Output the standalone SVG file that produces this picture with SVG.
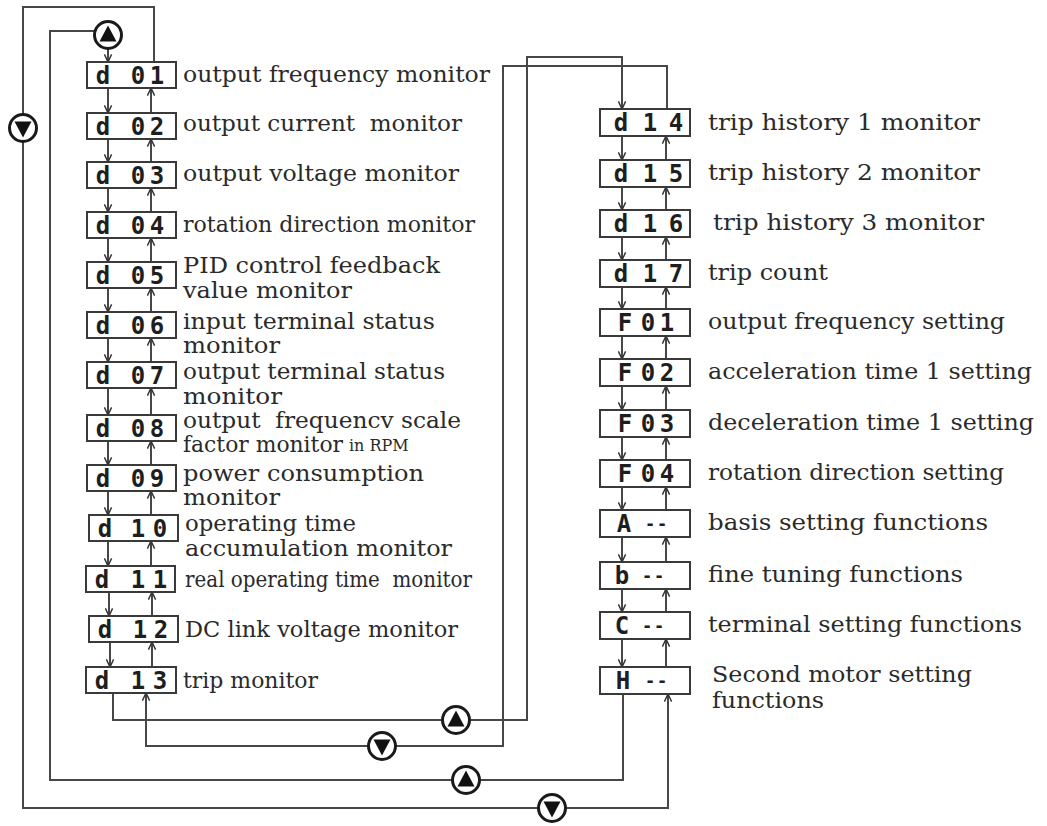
<svg xmlns="http://www.w3.org/2000/svg" xmlns:xlink="http://www.w3.org/1999/xlink" width="1047" height="826" viewBox="0 0 1047 826">
<style>
.box{fill:#fff;stroke:#3a3a3a;stroke-width:2}
.seg{font-family:"DejaVu Sans Mono","Liberation Mono",monospace;font-weight:bold;font-size:24px;fill:#1e1e1e;text-anchor:middle}
.dash{font-size:17px}
.lbl{font-family:"DejaVu Serif","Liberation Serif",serif;font-size:22.5px;fill:#2a2a2a}
.sm{font-size:16px}
.ln{fill:none;stroke:#474747;stroke-width:2}
</style>
<defs>
<marker id="arr" viewBox="0 0 10 10" refX="9.5" refY="5" markerWidth="9" markerHeight="9" markerUnits="userSpaceOnUse" orient="auto">
<path d="M1,1 L9.5,5 L1,9" fill="none" stroke="#333" stroke-width="1.6"/>
</marker>
<g id="bUp"><circle r="13.5" fill="#fff" stroke="#1a1a1a" stroke-width="3"/><polygon points="0,-9.5 -8.5,6.5 8.5,6.5" fill="#111"/></g>
<g id="bDn"><circle r="13.5" fill="#fff" stroke="#1a1a1a" stroke-width="3"/><polygon points="0,9.5 -8.5,-6.5 8.5,-6.5" fill="#111"/></g>
</defs>
<rect width="1047" height="826" fill="#fff"/>

<g id="connectors" class="ln">
<path d="M108,48 L108,62" marker-end="url(#arr)"/>
<path d="M623,694 L623,780 L50,780 L50,31 L100,31"/>
<path d="M154,62 L154,7 L23,7 L23,808 L668,808 L668,694" marker-end="url(#arr)"/>
<path d="M113,693 L113,720 L527,720 L527,57 L622,57 L622,109" marker-end="url(#arr)"/>
<path d="M667,109 L667,66 L503,66 L503,746 L146,746 L146,693" marker-end="url(#arr)"/>
<path d="M108,88 L108,113" marker-end="url(#arr)"/><path d="M151,113 L151,88" marker-end="url(#arr)"/>
<path d="M108,139 L108,162" marker-end="url(#arr)"/><path d="M151,162 L151,139" marker-end="url(#arr)"/>
<path d="M108,188 L108,212" marker-end="url(#arr)"/><path d="M151,212 L151,188" marker-end="url(#arr)"/>
<path d="M108,238 L108,262" marker-end="url(#arr)"/><path d="M151,262 L151,238" marker-end="url(#arr)"/>
<path d="M108,288 L108,312" marker-end="url(#arr)"/><path d="M151,312 L151,288" marker-end="url(#arr)"/>
<path d="M108,338 L108,362" marker-end="url(#arr)"/><path d="M151,362 L151,338" marker-end="url(#arr)"/>
<path d="M108,388 L108,415" marker-end="url(#arr)"/><path d="M151,415 L151,388" marker-end="url(#arr)"/>
<path d="M108,441 L108,465" marker-end="url(#arr)"/><path d="M151,465 L151,441" marker-end="url(#arr)"/>
<path d="M108,491 L108,515" marker-end="url(#arr)"/><path d="M151,515 L151,491" marker-end="url(#arr)"/>
<path d="M108,541 L108,566" marker-end="url(#arr)"/><path d="M151,566 L151,541" marker-end="url(#arr)"/>
<path d="M109,592 L109,616" marker-end="url(#arr)"/><path d="M152,616 L152,592" marker-end="url(#arr)"/>
<path d="M110,642 L110,667" marker-end="url(#arr)"/><path d="M152,667 L152,642" marker-end="url(#arr)"/>
<path d="M622,136 L622,160" marker-end="url(#arr)"/><path d="M666,160 L666,136" marker-end="url(#arr)"/>
<path d="M622,187 L622,210" marker-end="url(#arr)"/><path d="M666,210 L666,187" marker-end="url(#arr)"/>
<path d="M622,237 L622,260" marker-end="url(#arr)"/><path d="M666,260 L666,237" marker-end="url(#arr)"/>
<path d="M622,287 L622,309" marker-end="url(#arr)"/><path d="M666,309 L666,287" marker-end="url(#arr)"/>
<path d="M622,336 L622,359" marker-end="url(#arr)"/><path d="M666,359 L666,336" marker-end="url(#arr)"/>
<path d="M622,386 L622,410" marker-end="url(#arr)"/><path d="M666,410 L666,386" marker-end="url(#arr)"/>
<path d="M622,437 L622,460" marker-end="url(#arr)"/><path d="M666,460 L666,437" marker-end="url(#arr)"/>
<path d="M622,487 L622,510" marker-end="url(#arr)"/><path d="M666,510 L666,487" marker-end="url(#arr)"/>
<path d="M622,537 L622,562" marker-end="url(#arr)"/><path d="M666,562 L666,537" marker-end="url(#arr)"/>
<path d="M622,589 L622,612" marker-end="url(#arr)"/><path d="M666,612 L666,589" marker-end="url(#arr)"/>
<path d="M622,639 L622,667" marker-end="url(#arr)"/><path d="M666,667 L666,639" marker-end="url(#arr)"/>
</g>

<g id="buttons">
<use xlink:href="#bUp" x="108" y="35"/>
<use xlink:href="#bDn" x="23" y="128"/>
<use xlink:href="#bUp" x="456" y="720"/>
<use xlink:href="#bDn" x="382" y="746"/>
<use xlink:href="#bUp" x="466" y="780"/>
<use xlink:href="#bDn" x="552" y="808"/>
</g>

<g id="d01"><rect class="box" x="87" y="62" width="89" height="26"/><text class="seg" y="84"><tspan x="103">d</tspan><tspan x="138">0</tspan><tspan x="157">1</tspan></text><text class="lbl" x="183" y="82" textLength="307" lengthAdjust="spacingAndGlyphs">output frequency monitor</text></g>
<g id="d02"><rect class="box" x="87" y="113" width="89" height="26"/><text class="seg" y="135"><tspan x="103">d</tspan><tspan x="138">0</tspan><tspan x="157">2</tspan></text><text class="lbl" x="183" y="131" xml:space="preserve" textLength="279" lengthAdjust="spacingAndGlyphs">output current  monitor</text></g>
<g id="d03"><rect class="box" x="87" y="162" width="89" height="26"/><text class="seg" y="184"><tspan x="103">d</tspan><tspan x="138">0</tspan><tspan x="157">3</tspan></text><text class="lbl" x="183" y="181" textLength="276" lengthAdjust="spacingAndGlyphs">output voltage monitor</text></g>
<g id="d04"><rect class="box" x="87" y="212" width="89" height="26"/><text class="seg" y="234"><tspan x="103">d</tspan><tspan x="138">0</tspan><tspan x="157">4</tspan></text><text class="lbl" x="183" y="232" textLength="292" lengthAdjust="spacingAndGlyphs">rotation direction monitor</text></g>
<g id="d05"><rect class="box" x="87" y="262" width="89" height="26"/><text class="seg" y="284"><tspan x="103">d</tspan><tspan x="138">0</tspan><tspan x="157">5</tspan></text><text class="lbl" x="183" y="273" textLength="257" lengthAdjust="spacingAndGlyphs">PID control feedback</text><text class="lbl" x="183" y="298" textLength="169" lengthAdjust="spacingAndGlyphs">value monitor</text></g>
<g id="d06"><rect class="box" x="87" y="312" width="89" height="26"/><text class="seg" y="334"><tspan x="103">d</tspan><tspan x="138">0</tspan><tspan x="157">6</tspan></text><text class="lbl" x="183" y="329" textLength="252" lengthAdjust="spacingAndGlyphs">input terminal status</text><text class="lbl" x="183" y="353" textLength="97" lengthAdjust="spacingAndGlyphs">monitor</text></g>
<g id="d07"><rect class="box" x="87" y="362" width="89" height="26"/><text class="seg" y="384"><tspan x="103">d</tspan><tspan x="138">0</tspan><tspan x="157">7</tspan></text><text class="lbl" x="183" y="379" textLength="262" lengthAdjust="spacingAndGlyphs">output terminal status</text><text class="lbl" x="183" y="404" textLength="99" lengthAdjust="spacingAndGlyphs">monitor</text></g>
<g id="d08"><rect class="box" x="87" y="415" width="89" height="26"/><text class="seg" y="437"><tspan x="103">d</tspan><tspan x="138">0</tspan><tspan x="157">8</tspan></text><text class="lbl" x="183" y="428" xml:space="preserve" textLength="278" lengthAdjust="spacingAndGlyphs">output  frequencv scale</text><text class="lbl" x="183" y="452" textLength="160" lengthAdjust="spacingAndGlyphs">factor monitor</text><text class="lbl sm" x="349" y="451">in RPM</text></g>
<g id="d09"><rect class="box" x="87" y="465" width="89" height="26"/><text class="seg" y="487"><tspan x="103">d</tspan><tspan x="138">0</tspan><tspan x="157">9</tspan></text><text class="lbl" x="183" y="481" textLength="241" lengthAdjust="spacingAndGlyphs">power consumption</text><text class="lbl" x="183" y="505" textLength="97" lengthAdjust="spacingAndGlyphs">monitor</text></g>
<g id="d10"><rect class="box" x="89" y="515" width="89" height="26"/><text class="seg" y="537"><tspan x="105">d</tspan><tspan x="138">1</tspan><tspan x="160">0</tspan></text><text class="lbl" x="185" y="531" textLength="171" lengthAdjust="spacingAndGlyphs">operating time</text><text class="lbl" x="185" y="556" textLength="267" lengthAdjust="spacingAndGlyphs">accumulation monitor</text></g>
<g id="d11"><rect class="box" x="86" y="566" width="89" height="26"/><text class="seg" y="588"><tspan x="102">d</tspan><tspan x="138">1</tspan><tspan x="160">1</tspan></text><text class="lbl" x="185" y="587" xml:space="preserve" textLength="287" lengthAdjust="spacingAndGlyphs">real operating time  monitor</text></g>
<g id="d12"><rect class="box" x="89" y="616" width="89" height="26"/><text class="seg" y="638"><tspan x="105">d</tspan><tspan x="140">1</tspan><tspan x="161">2</tspan></text><text class="lbl" x="185" y="637" textLength="273" lengthAdjust="spacingAndGlyphs">DC link voltage monitor</text></g>
<g id="d13"><rect class="box" x="86" y="667" width="90" height="26"/><text class="seg" y="689"><tspan x="102">d</tspan><tspan x="138">1</tspan><tspan x="160">3</tspan></text><text class="lbl" x="183" y="688" textLength="135" lengthAdjust="spacingAndGlyphs">trip monitor</text></g>

<g id="d14"><rect class="box" x="600" y="109" width="90" height="27"/><text class="seg" y="131"><tspan x="621">d</tspan><tspan x="650">1</tspan><tspan x="676">4</tspan></text><text class="lbl" x="708" y="130" textLength="272" lengthAdjust="spacingAndGlyphs">trip history 1 monitor</text></g>
<g id="d15"><rect class="box" x="600" y="160" width="90" height="27"/><text class="seg" y="182"><tspan x="621">d</tspan><tspan x="650">1</tspan><tspan x="676">5</tspan></text><text class="lbl" x="708" y="180" textLength="272" lengthAdjust="spacingAndGlyphs">trip history 2 monitor</text></g>
<g id="d16"><rect class="box" x="600" y="210" width="90" height="27"/><text class="seg" y="232"><tspan x="621">d</tspan><tspan x="650">1</tspan><tspan x="676">6</tspan></text><text class="lbl" x="713" y="230" textLength="271" lengthAdjust="spacingAndGlyphs">trip history 3 monitor</text></g>
<g id="d17"><rect class="box" x="600" y="260" width="90" height="27"/><text class="seg" y="282"><tspan x="621">d</tspan><tspan x="650">1</tspan><tspan x="676">7</tspan></text><text class="lbl" x="708" y="280" textLength="120" lengthAdjust="spacingAndGlyphs">trip count</text></g>
<g id="F01"><rect class="box" x="600" y="309" width="90" height="27"/><text class="seg" y="331"><tspan x="625">F</tspan><tspan x="648">0</tspan><tspan x="667">1</tspan></text><text class="lbl" x="708" y="329" textLength="297" lengthAdjust="spacingAndGlyphs">output frequency setting</text></g>
<g id="F02"><rect class="box" x="600" y="359" width="90" height="27"/><text class="seg" y="381"><tspan x="625">F</tspan><tspan x="648">0</tspan><tspan x="667">2</tspan></text><text class="lbl" x="708" y="379" textLength="324" lengthAdjust="spacingAndGlyphs">acceleration time 1 setting</text></g>
<g id="F03"><rect class="box" x="600" y="410" width="90" height="27"/><text class="seg" y="432"><tspan x="625">F</tspan><tspan x="648">0</tspan><tspan x="667">3</tspan></text><text class="lbl" x="708" y="430" textLength="326" lengthAdjust="spacingAndGlyphs">deceleration time 1 setting</text></g>
<g id="F04"><rect class="box" x="600" y="460" width="90" height="27"/><text class="seg" y="482"><tspan x="625">F</tspan><tspan x="648">0</tspan><tspan x="667">4</tspan></text><text class="lbl" x="708" y="480" textLength="296" lengthAdjust="spacingAndGlyphs">rotation direction setting</text></g>
<g id="A"><rect class="box" x="600" y="510" width="90" height="27"/><text class="seg" y="532"><tspan x="624">A</tspan><tspan class="dash" x="650" dy="-2">-</tspan><tspan class="dash" x="662">-</tspan></text><text class="lbl" x="708" y="530" textLength="280" lengthAdjust="spacingAndGlyphs">basis setting functions</text></g>
<g id="b"><rect class="box" x="600" y="562" width="90" height="27"/><text class="seg" y="584"><tspan x="622">b</tspan><tspan class="dash" x="647" dy="-2">-</tspan><tspan class="dash" x="659">-</tspan></text><text class="lbl" x="708" y="582" textLength="255" lengthAdjust="spacingAndGlyphs">fine tuning functions</text></g>
<g id="C"><rect class="box" x="600" y="612" width="90" height="27"/><text class="seg" y="634"><tspan x="622">C</tspan><tspan class="dash" x="647" dy="-2">-</tspan><tspan class="dash" x="659">-</tspan></text><text class="lbl" x="708" y="632" textLength="314" lengthAdjust="spacingAndGlyphs">terminal setting functions</text></g>
<g id="H"><rect class="box" x="600" y="667" width="90" height="27"/><text class="seg" y="689"><tspan x="623">H</tspan><tspan class="dash" x="650" dy="-2">-</tspan><tspan class="dash" x="662">-</tspan></text><text class="lbl" x="712" y="682" textLength="260" lengthAdjust="spacingAndGlyphs">Second motor setting</text><text class="lbl" x="712" y="708" textLength="112" lengthAdjust="spacingAndGlyphs">functions</text></g>
</svg>
